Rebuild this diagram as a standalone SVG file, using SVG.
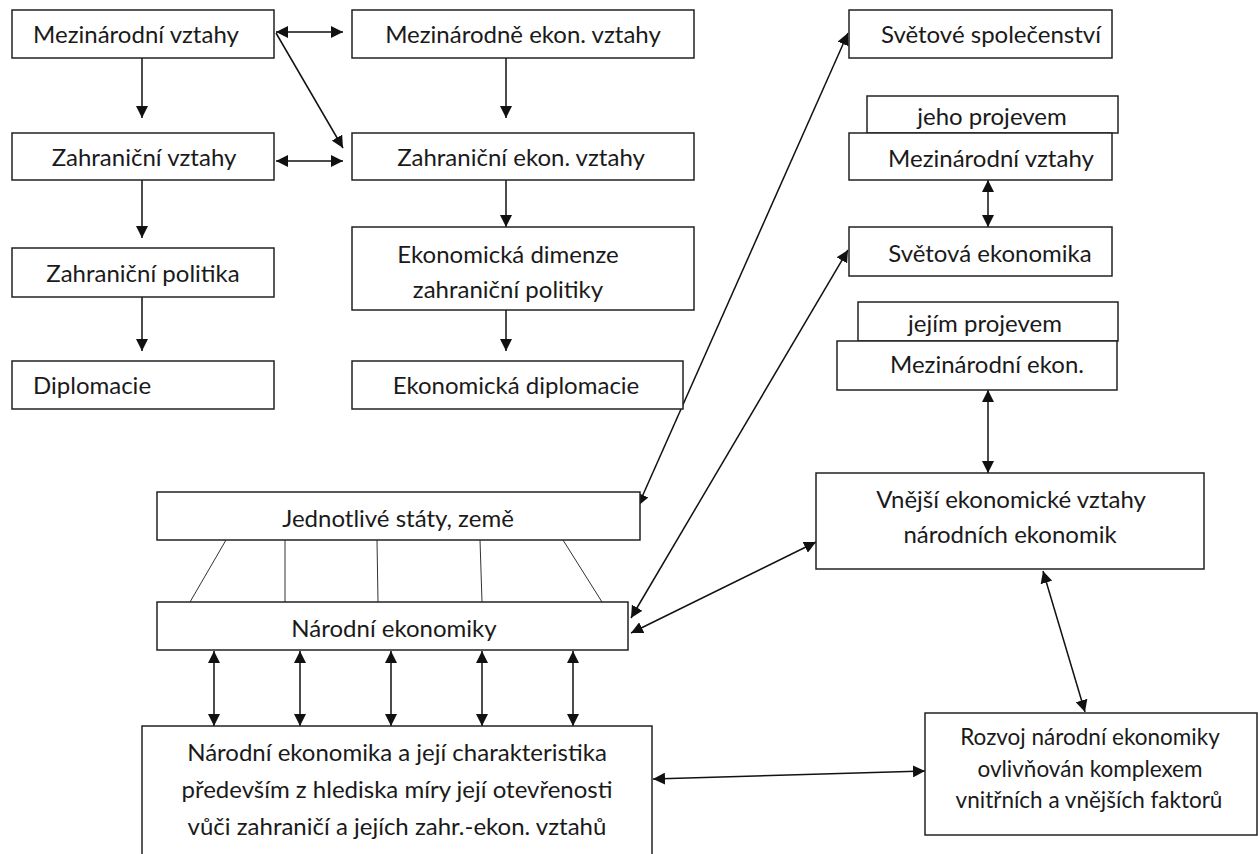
<svg xmlns="http://www.w3.org/2000/svg" width="1258" height="854" viewBox="0 0 1258 854">
<style>
rect{fill:#fff;stroke:#222;stroke-width:1.5}
text{font-family:Lato,"Open Sans","Liberation Sans",sans-serif;font-size:24px;fill:#1a1a1a;text-anchor:middle}
.s{font-size:22.5px}
.l{text-anchor:start}
.c{stroke:#111;stroke-width:1.5;fill:none}
.t{stroke:#333;stroke-width:1;fill:none}
</style>
<defs>
<marker id="ah" viewBox="0 0 12 12" refX="12" refY="6" markerWidth="12" markerHeight="12" markerUnits="userSpaceOnUse" orient="auto-start-reverse"><path d="M0,0 L12,6 L0,12 z" fill="#111"/></marker>
</defs>
<rect width="1258" height="854" style="fill:#fff;stroke:none"/>
<g id="connectors">
<line class="c" x1="142" y1="58" x2="142" y2="118" marker-end="url(#ah)"/>
<line class="c" x1="142" y1="180" x2="142" y2="238" marker-end="url(#ah)"/>
<line class="c" x1="142" y1="297" x2="142" y2="351" marker-end="url(#ah)"/>
<line class="c" x1="506" y1="58" x2="506" y2="118" marker-end="url(#ah)"/>
<line class="c" x1="506" y1="180" x2="506" y2="227" marker-end="url(#ah)"/>
<line class="c" x1="506" y1="310" x2="506" y2="351" marker-end="url(#ah)"/>
<line class="c" x1="276" y1="32" x2="343" y2="32" marker-start="url(#ah)" marker-end="url(#ah)"/>
<line class="c" x1="276" y1="161" x2="343" y2="161" marker-start="url(#ah)" marker-end="url(#ah)"/>
<line class="c" x1="276" y1="33" x2="343" y2="148" marker-end="url(#ah)"/>
<line class="c" x1="988" y1="180" x2="988" y2="227" marker-start="url(#ah)" marker-end="url(#ah)"/>
<line class="c" x1="988" y1="390" x2="988" y2="473" marker-start="url(#ah)" marker-end="url(#ah)"/>
<line class="c" x1="638" y1="506" x2="848" y2="33" marker-start="url(#ah)" marker-end="url(#ah)"/>
<line class="c" x1="631" y1="618" x2="848" y2="250" marker-start="url(#ah)" marker-end="url(#ah)"/>
<line class="c" x1="631" y1="633" x2="816" y2="542" marker-start="url(#ah)" marker-end="url(#ah)"/>
<line class="c" x1="1043" y1="571" x2="1085" y2="712" marker-start="url(#ah)" marker-end="url(#ah)"/>
<line class="c" x1="653" y1="779" x2="925" y2="771" marker-start="url(#ah)" marker-end="url(#ah)"/>
<line class="c" x1="214" y1="651" x2="214" y2="726" marker-start="url(#ah)" marker-end="url(#ah)"/>
<line class="c" x1="300" y1="651" x2="300" y2="726" marker-start="url(#ah)" marker-end="url(#ah)"/>
<line class="c" x1="391" y1="651" x2="391" y2="726" marker-start="url(#ah)" marker-end="url(#ah)"/>
<line class="c" x1="482" y1="651" x2="482" y2="726" marker-start="url(#ah)" marker-end="url(#ah)"/>
<line class="c" x1="573" y1="651" x2="573" y2="726" marker-start="url(#ah)" marker-end="url(#ah)"/>
<line class="t" x1="226" y1="540" x2="190" y2="602"/>
<line class="t" x1="285" y1="540" x2="285" y2="602"/>
<line class="t" x1="377" y1="540" x2="378" y2="602"/>
<line class="t" x1="480" y1="540" x2="482" y2="602"/>
<line class="t" x1="563" y1="540" x2="602" y2="602"/>
</g>
<g id="n-mez-vztahy"><rect x="12" y="10" width="262" height="48"/><text x="136" y="43">Mezinárodní vztahy</text></g>
<g id="n-zahr-vztahy"><rect x="12" y="133" width="262" height="47"/><text x="144" y="166">Zahraniční vztahy</text></g>
<g id="n-zahr-politika"><rect x="12" y="248" width="262" height="49"/><text x="143" y="282">Zahraniční politika</text></g>
<g id="n-diplomacie"><rect x="12" y="361" width="262" height="48"/><text class="l" x="33" y="394">Diplomacie</text></g>
<g id="n-mez-ekon"><rect x="352" y="10" width="342" height="48"/><text x="523" y="43">Mezinárodně ekon. vztahy</text></g>
<g id="n-zahr-ekon"><rect x="352" y="133" width="342" height="47"/><text x="521" y="166">Zahraniční ekon. vztahy</text></g>
<g id="n-ek-dimenze"><rect x="352" y="227" width="342" height="83"/><text x="508" y="263">Ekonomická dimenze</text><text x="508" y="298">zahraniční politiky</text></g>
<g id="n-ek-diplomacie"><rect x="352" y="361" width="331" height="48"/><text x="516" y="394">Ekonomická diplomacie</text></g>
<g id="n-svet-spol"><rect x="849" y="10" width="263" height="48"/><text x="991" y="43">Světové společenství</text></g>
<g id="n-jeho-projevem"><rect x="867" y="96" width="251" height="37"/><text x="992" y="125">jeho projevem</text></g>
<g id="n-mez-vztahy-2"><rect x="849" y="133" width="263" height="47"/><text x="991" y="167">Mezinárodní vztahy</text></g>
<g id="n-svet-ekon"><rect x="849" y="227" width="263" height="49"/><text x="990" y="262">Světová ekonomika</text></g>
<g id="n-jejim-projevem"><rect x="858" y="302" width="260" height="39"/><text x="985" y="332">jejím projevem</text></g>
<g id="n-mez-ekon-2"><rect x="837" y="341" width="280" height="49"/><text x="987" y="373">Mezinárodní ekon.</text></g>
<g id="n-vnejsi"><rect x="816" y="473" width="388" height="96"/><text x="1011" y="508">Vnější ekonomické vztahy</text><text x="1010" y="543">národních ekonomik</text></g>
<g id="n-jednotlive"><rect x="157" y="492" width="483" height="48"/><text x="398" y="527">Jednotlivé státy, země</text></g>
<g id="n-narodni-ekonomiky"><rect x="157" y="602" width="471" height="48"/><text x="394" y="637">Národní ekonomiky</text></g>
<g id="n-narodni-ekonomika"><rect x="142" y="726" width="510" height="140"/><text x="397" y="761">Národní ekonomika a její charakteristika</text><text x="397" y="798">především z hlediska míry její otevřenosti</text><text x="397" y="835">vůči zahraničí a jejích zahr.-ekon. vztahů</text></g>
<g id="n-rozvoj"><rect x="925" y="713" width="332" height="122"/><text class="s" x="1090" y="745">Rozvoj národní ekonomiky</text><text class="s" x="1090" y="777">ovlivňován komplexem</text><text class="s" x="1089" y="808">vnitřních a vnějších faktorů</text></g>
</svg>
